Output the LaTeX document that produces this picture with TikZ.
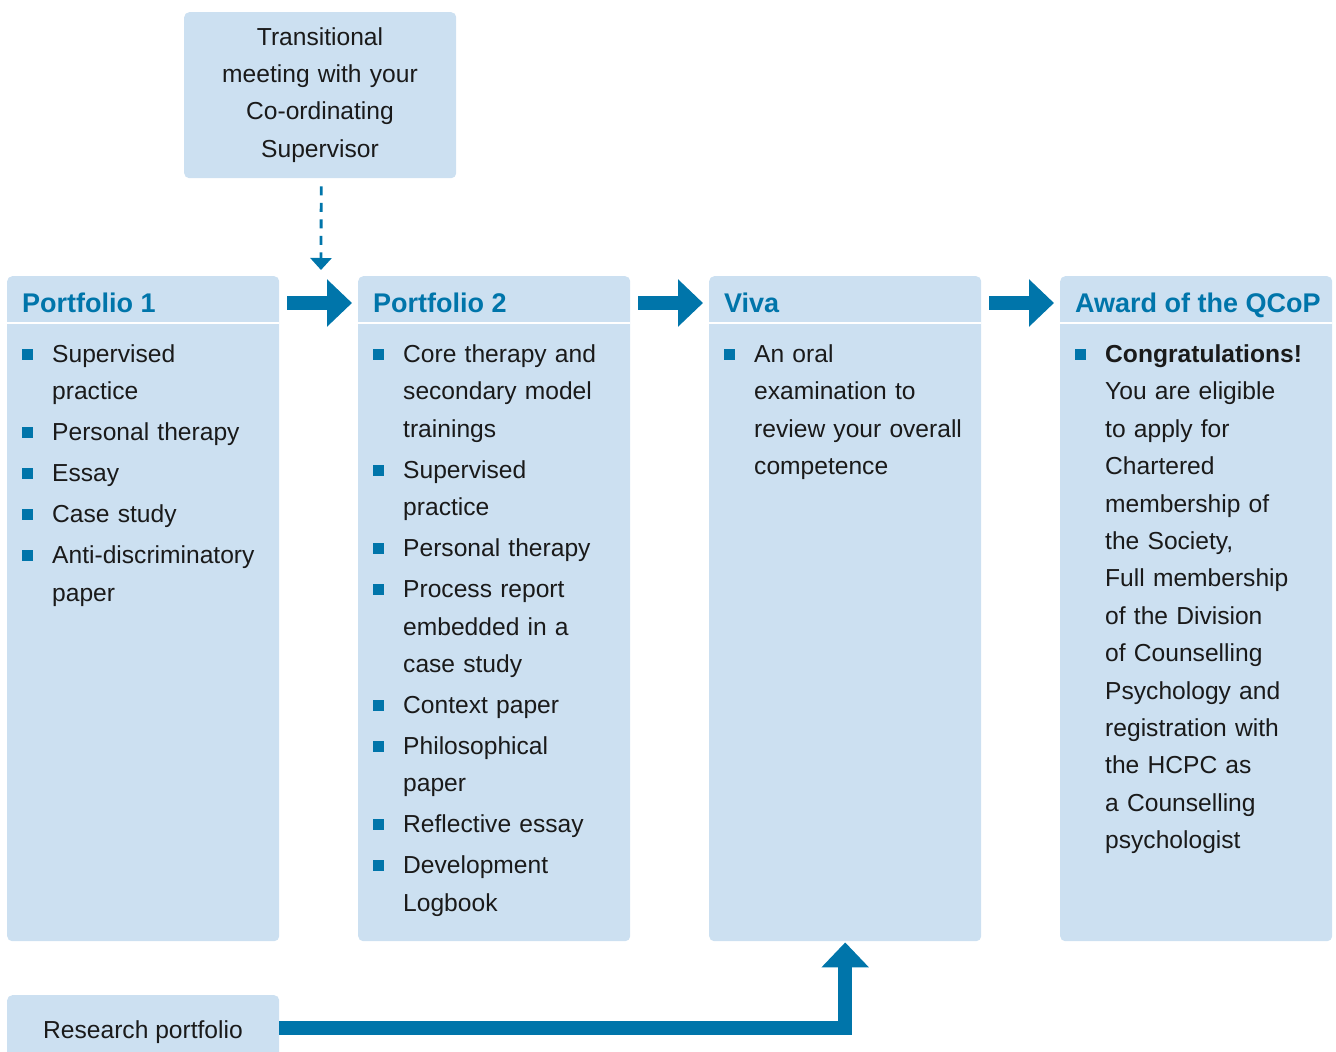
\documentclass[tikz,border=0pt]{standalone}
\usepackage{fontspec}
\setmainfont{Liberation Sans}
\usetikzlibrary{arrows.meta}
\definecolor{boxblue}{HTML}{CCE0F1}
\definecolor{deepblue}{HTML}{0075AA}
\definecolor{ink}{HTML}{1A1A1A}
\tikzset{
 panel/.style={fill=boxblue, draw=none, rounded corners=5pt, inner sep=0pt, anchor=north west, minimum width=272pt},
 head/.style={anchor=base west, inner sep=0pt, text=deepblue, font=\fontsize{27}{32}\selectfont\bfseries},
 body/.style={anchor=base west, inner sep=0pt, text=ink, font=\fontsize{24.6}{37.4}\selectfont, text width=260pt, align=left},
 plain/.style={inner sep=0pt, text=ink, font=\fontsize{24.6}{37.4}\selectfont},
 bulletsq/.style={fill=deepblue, inner sep=0pt, minimum size=11pt, anchor=south west},
 bigarrow/.style={draw=deepblue, line width=14pt, -{Triangle[width=46pt,length=25pt]}},
 sepline/.style={white, line width=2.5pt},
}
\newcommand{\bitem}[4]{%
 \node[bulletsq] (#1b) at (#2, #3-2) {};
 \node[body] (#1) at (#2+30, #3+0.5) {#4};
}
\begin{document}
\begin{tikzpicture}[x=1pt,y=-1pt]
\useasboundingbox (0,0) rectangle (1336,1052);
\clip (0,0) rectangle (1336,1052);
% boxes
\node[panel, minimum height=166pt] (trans) at (184,12) {};
\node[plain, anchor=base, text width=272pt, align=center] (transtext) at (320,45) {Transitional\\meeting with your\\Co-ordinating\\Supervisor};
\node[panel, minimum height=665pt] (p1) at (7,276) {};
\node[panel, minimum height=665pt] (p2) at (358,276) {};
\node[panel, minimum height=665pt] (viva) at (709,276) {};
\node[panel, minimum height=665pt] (award) at (1060,276) {};
\node[panel, minimum height=66pt] (rp) at (7,995) {};
\node[plain, anchor=base] (rptext) at (143,1038) {Research portfolio};
% separators
\foreach \n in {p1,p2,viva,award}
  \draw[sepline] ([yshift=-47pt]\n.north west) -- ([yshift=-47pt]\n.north east);
% headers
\node[head] (h1) at (22,312) {Portfolio 1};
\node[head] (h2) at (373,312) {Portfolio 2};
\node[head] (h3) at (724,312) {Viva};
\node[head] (h4) at (1075,312) {Award of the QCoP};
% Portfolio 1 items
\bitem{a1}{22}{362}{Supervised\\practice}
\bitem{a2}{22}{440.4}{Personal therapy}
\bitem{a3}{22}{481.4}{Essay}
\bitem{a4}{22}{522.4}{Case study}
\bitem{a5}{22}{563.4}{Anti-discriminatory\\paper}
% Portfolio 2 items
\bitem{b1}{373}{362}{Core therapy and\\secondary model\\trainings}
\bitem{b2}{373}{477.8}{Supervised\\practice}
\bitem{b3}{373}{556.2}{Personal therapy}
\bitem{b4}{373}{597.2}{Process report\\embedded in a\\case study}
\bitem{b5}{373}{713}{Context paper}
\bitem{b6}{373}{754}{Philosophical\\paper}
\bitem{b7}{373}{832.4}{Reflective essay}
\bitem{b8}{373}{873.4}{Development\\Logbook}
% Viva
\bitem{c1}{724}{362}{An oral\\examination to\\review your overall\\competence}
% Award
\bitem{d1}{1075}{362}{\textbf{Congratulations!}\\You are eligible\\to apply for\\Chartered\\membership of\\the Society,\\Full membership\\of the Division\\of Counselling\\Psychology and\\registration with\\the HCPC as\\a Counselling\\psychologist}
% arrows
\draw[bigarrow] ([xshift=8pt,yshift=-27pt]p1.north east) -- ([xshift=-6pt,yshift=-27pt]p2.north west);
\draw[bigarrow] ([xshift=8pt,yshift=-27pt]p2.north east) -- ([xshift=-6pt,yshift=-27pt]viva.north west);
\draw[bigarrow] ([xshift=8pt,yshift=-27pt]viva.north east) -- ([xshift=-6pt,yshift=-27pt]award.north west);
\coordinate (dashend) at (321,270);
\draw[deepblue, line width=2.8pt, dash pattern=on 9pt off 7.5pt, -{Triangle[width=21pt,length=12pt]}] ([xshift=1pt,yshift=-8pt]trans.south) -- (dashend);
\draw[bigarrow] (rp.east) -| ([yshift=-1pt]viva.south);
\end{tikzpicture}
\end{document}
